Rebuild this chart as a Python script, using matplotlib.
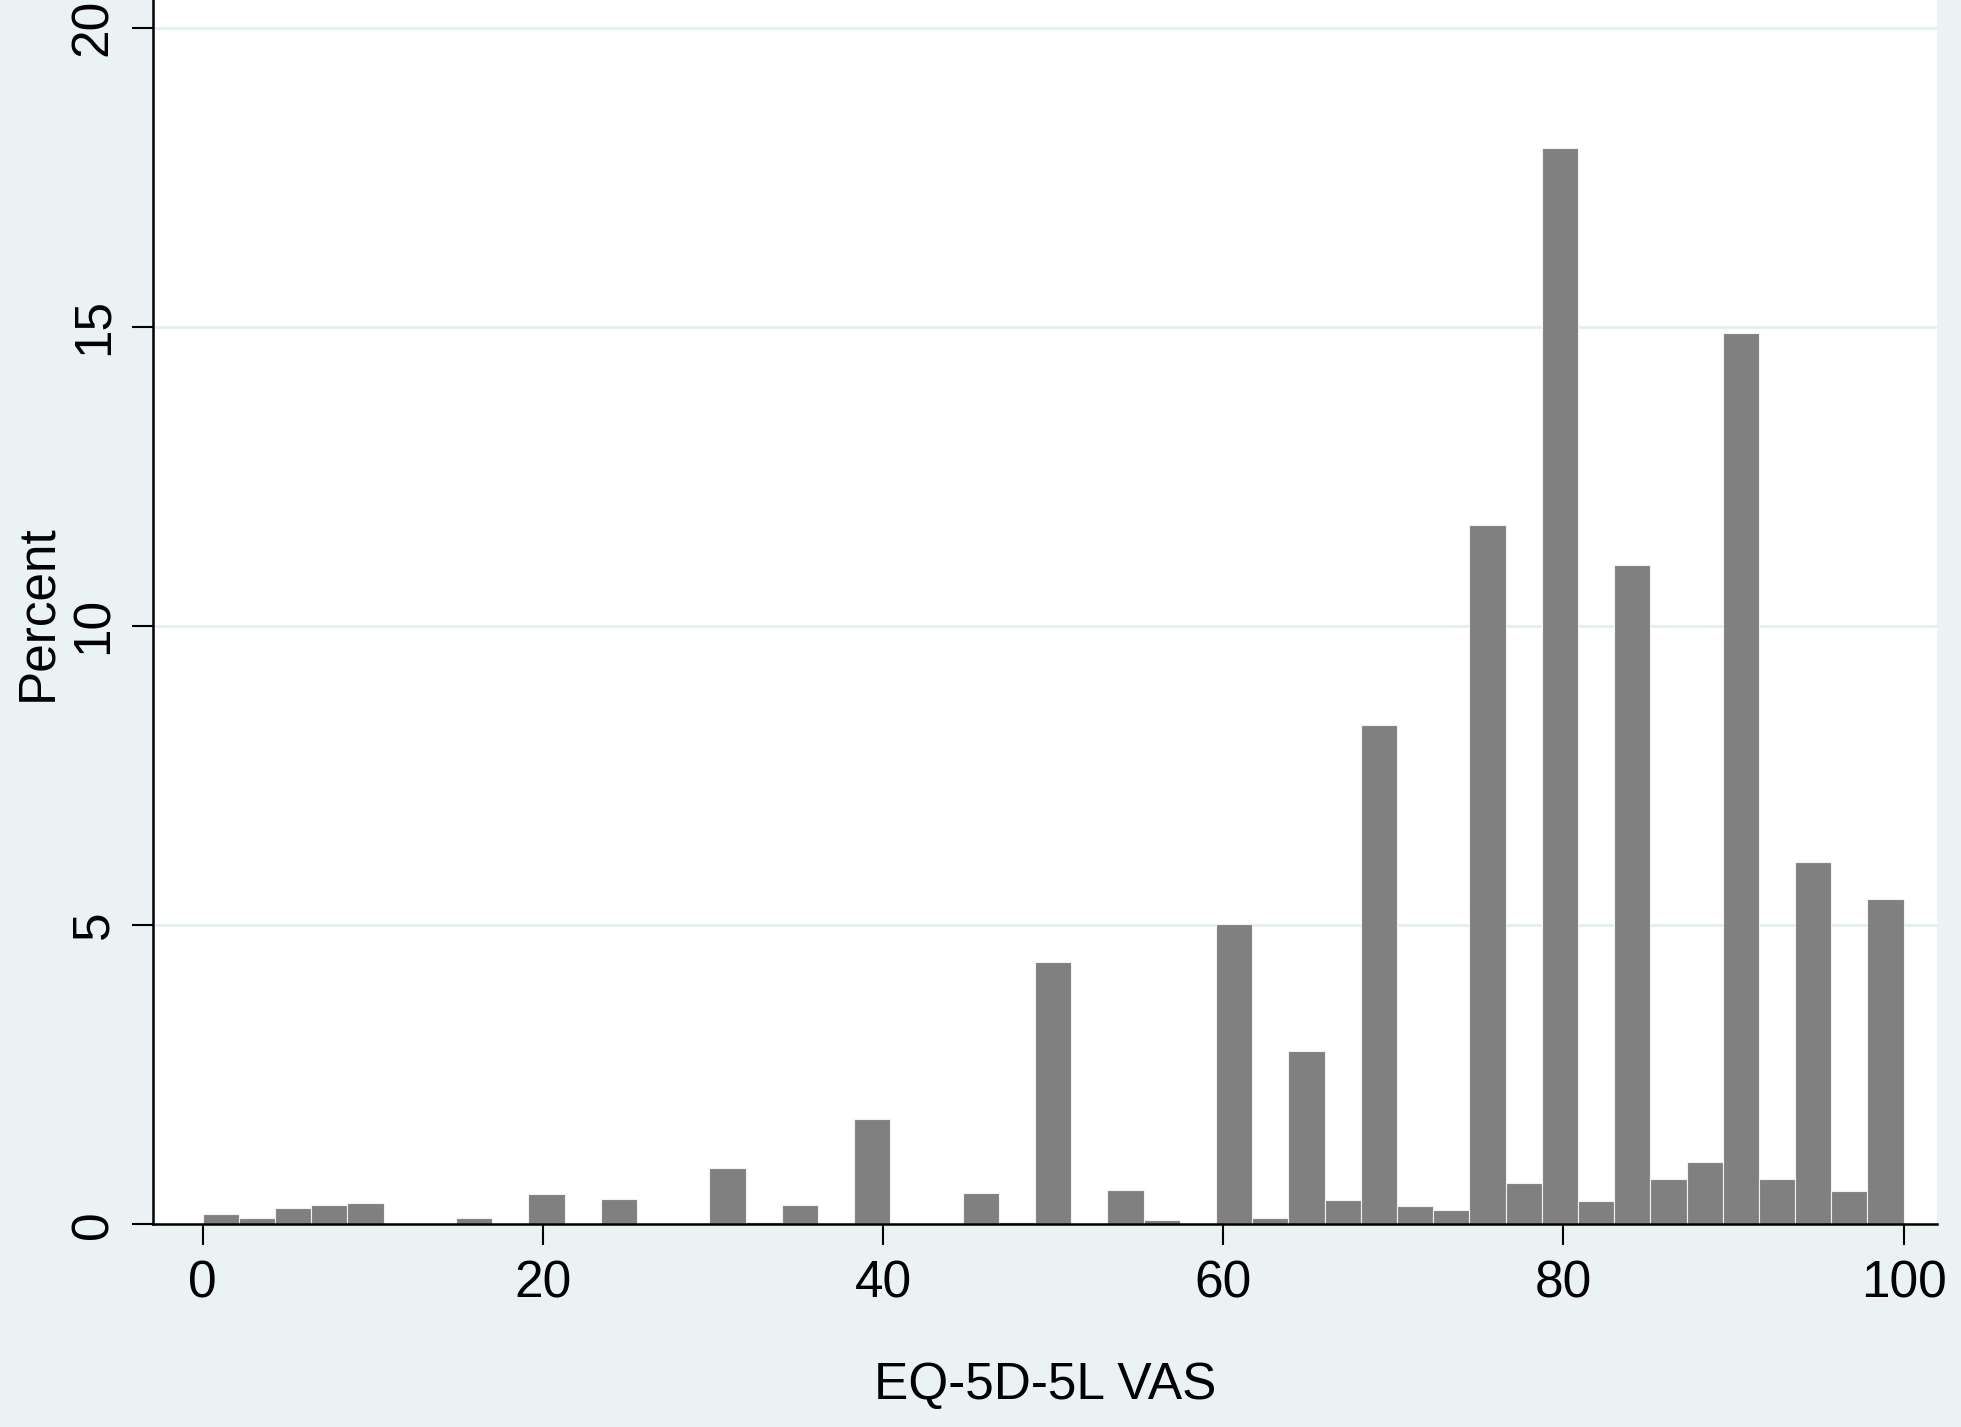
"""Histogram of EQ-5D-5L VAS scores (Stata s2color look)."""
import matplotlib
matplotlib.use("Agg")
import matplotlib.pyplot as plt
import numpy as np

plt.rcParams["font.family"] = ["Liberation Sans", "DejaVu Sans"]

# 47 equal bins between 0 and 100
n_bins = 47
bin_edges = np.linspace(0, 100, n_bins + 1)
percent = [
    0.17, 0.11, 0.28, 0.32, 0.35, 0.0, 0.0, 0.10, 0.0, 0.51,
    0.0, 0.42, 0.0, 0.0, 0.94, 0.04, 0.33, 0.03, 1.76, 0.0,
    0.02, 0.52, 0.04, 4.39, 0.0, 0.58, 0.07, 0.0, 5.02, 0.10,
    2.90, 0.40, 8.34, 0.30, 0.24, 11.68, 0.69, 17.99, 0.39, 11.01,
    0.76, 1.04, 14.89, 0.76, 6.06, 0.56, 5.43,
]
x_ticks = [0, 20, 40, 60, 80, 100]
y_ticks = [0, 5, 10, 15, 20]

bg = "#EAF2F3"
fig = plt.figure(figsize=(19.61, 14.27), dpi=100, facecolor=bg)
ax = fig.add_axes([153 / 1961, 1 - 1224.3 / 1427, (1937 - 153) / 1961, 1224.3 / 1427])
ax.set_facecolor("white")

ax.bar(bin_edges[:-1], percent, width=np.diff(bin_edges), align="edge",
       color="#808080", edgecolor="#f2f2f2", linewidth=0.8, zorder=3)

ax.set_xlim(-2.92, 101.96)
ax.set_ylim(0, 20.46)
ax.set_xticks(x_ticks)
ax.set_yticks(y_ticks)
ax.yaxis.grid(True, color="#E3EEF0", linewidth=2.0, zorder=0)
ax.set_axisbelow(True)

for side in ("top", "right"):
    ax.spines[side].set_visible(False)
for side in ("left", "bottom"):
    ax.spines[side].set_linewidth(1.8)
    ax.spines[side].set_zorder(4)

ax.tick_params(axis="both", direction="out", length=15, width=1.5,
               labelsize=37, pad=10)
plt.setp(ax.get_yticklabels(), rotation=90, va="center")

ax.set_xlabel("EQ-5D-5L VAS", fontsize=37, labelpad=38)
ax.set_ylabel("Percent", fontsize=37, labelpad=5)

fig.savefig("out.png", dpi=100, facecolor=bg)
